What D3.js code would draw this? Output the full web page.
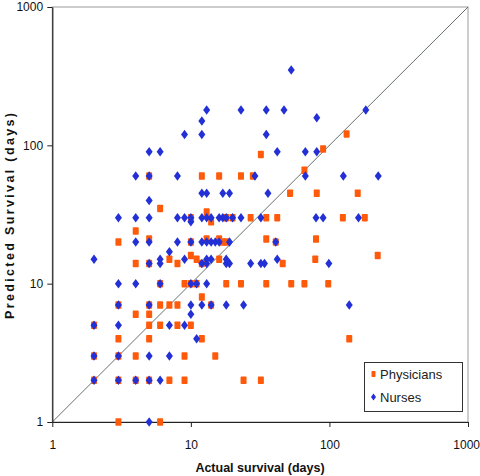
<!DOCTYPE html>
<html><head><meta charset="utf-8">
<script src="https://cdn.jsdelivr.net/npm/d3@7"></script>
<style>body{margin:0;background:#fff}svg{display:block}</style>
</head><body>
<svg id="c" width="480" height="476"></svg>
<script>
const physicianActual = [3,6, 2,3,4,5,7,9,24,32, 2,3,4,9,15, 3,5,12,139, 2,5,6,8,10, 4,5, 3,5,6,7,8,14, 12,
  6,9,10,11,18,23,35,53,66,98, 4,5,8,12,46, 7,11,16,79, 10,223, 3,10,17,18,35,41, 5,13,16,80, 4, 14,
  10,18,20,27,35,42,125,180, 13, 6, 52,81,160, 5,12,16,23,28, 66, 32, 90, 133];
const physicianPredicted = [1,1, 2,2,2,2,2,2,2,2, 3,3,3,3,3, 4,4,4,4, 5,5,5,5,5, 6,6, 7,7,7,7,7,7, 8,
  10,10,10,10,10,10,10,10,10,10, 14,14,14,14,14, 15,15,15,15, 16,16, 20,20,20,20,21,20, 21,21,21,21, 24, 28,
  30,30,30,30,30,30,30,30, 33, 35, 45,45,45, 60,60,60,60,60, 66, 86, 94, 121];
const nurseActual = [5, 2,3,4,5,6, 2,3,5,7, 11, 2,3,7,9, 10, 3,5,10,12,14,18,24,139,
  3,4,6,10,11,13, 5,6,12,13,18,19,27,32,34,99, 2,6,9,13,14,18,42, 7,
  4,5,8,10,12,13,14,15,16,19,41, 10,
  3,4,5,8,9,10,12,13,14,16,17,18,20,23,32,80,90,162, 5, 12,13,17,19,36,
  4,5,8,29,67,126,225, 5,6,42,67,81, 9,12,35, 12, 81, 13,23,35,47,183, 53];
const nursePredicted = [1, 2,2,2,2,2, 3,3,3,3, 4, 5,5,5,5, 6, 7,7,7,7,7,7,7,7,
  10,10,10,10,10,10, 14,14,14,14,14,14,14,14,14,14, 15,15,15,15,15,15,15, 17,
  20,20,20,20,20,20,20,20,20,20,20, 28,
  30,30,30,30,30,30,30,30,30,30,30,30,30,30,30,30,30,30, 40, 45,45,45,45,45,
  60,60,60,60,60,60,60, 90,90,90,90,90, 120,120,120, 150, 158, 180,180,180,180,180, 350];
const axisTicks = [1, 10, 100, 1000];
const tickLabels = ["1", "10", "100", "1000"];
const seriesNames = ["Physicians", "Nurses"];
const seriesColors = ["#ff5a0a", "#2230d6"];

const svg = d3.select("#c");
const L = 52.3, R = 468, T = 7, B = 422;
const x = d3.scaleLog().domain([1, 1000]).range([L, R]);
const y = d3.scaleLog().domain([1, 1000]).range([B, T]);
const font = "'Liberation Sans', Arial, sans-serif";

// frame
svg.append("rect").attr("x", L).attr("y", T).attr("width", R - L).attr("height", B - T)
  .attr("fill", "none").attr("stroke", "#9a9a9a").attr("stroke-width", 1);

// diagonal
svg.append("line").attr("x1", x(1)).attr("y1", y(1)).attr("x2", x(1000)).attr("y2", y(1000))
  .attr("stroke", "#55605c").attr("stroke-width", 0.9);

// axes
const xAxis = d3.axisBottom(x).tickValues(axisTicks).tickFormat((d, i) => tickLabels[i]).tickSize(5).tickSizeOuter(0);
const yAxis = d3.axisLeft(y).tickValues(axisTicks).tickFormat((d, i) => tickLabels[i]).tickSize(5).tickSizeOuter(0);
const gx = svg.append("g").attr("transform", `translate(0,${B})`).call(xAxis);
const gy = svg.append("g").attr("transform", `translate(${L},0)`).call(yAxis);
[gx, gy].forEach(g => {
  g.select(".domain").attr("stroke", "#222").attr("stroke-width", 1.2);
  g.selectAll(".tick line").attr("stroke", "#222");
  g.selectAll("text").attr("font-family", font).attr("font-size", 12).attr("fill", "#111");
});
gx.selectAll("text").attr("dy", "1.55em");
// keep the last label inside the page edge
gx.selectAll(".tick").filter(d => d === 1000).select("text")
  .attr("text-anchor", "end").attr("x", 479.5 - x(1000));
gy.selectAll("text").attr("dx", "-0.1em");

// titles
svg.append("text").attr("x", 260).attr("y", 472).attr("text-anchor", "middle")
  .attr("font-family", font).attr("font-weight", "bold").attr("font-size", 12.5).attr("fill", "#111")
  .text("Actual survival (days)");
svg.append("text").attr("transform", "translate(14,216) rotate(-90)").attr("text-anchor", "middle")
  .attr("font-family", font).attr("font-weight", "bold").attr("font-size", 12.5).attr("fill", "#111")
  .attr("textLength", 206).attr("lengthAdjust", "spacing")
  .text("Predicted Survival (days)");

// markers
const sq = (g, cx, cy, c, w, h) => g.append("rect").attr("x", cx - w / 2).attr("y", cy - h / 2)
  .attr("width", w).attr("height", h).attr("rx", 0.8).attr("fill", c);
const dm = (g, cx, cy, c, w, h) => g.append("path")
  .attr("d", `M${cx},${cy - h / 2}L${cx + w / 2},${cy}L${cx},${cy + h / 2}L${cx - w / 2},${cy}Z`).attr("fill", c);

const gp = svg.append("g");
physicianActual.forEach((a, i) => sq(gp, x(a), y(physicianPredicted[i]), seriesColors[0], 6, 7.5));
const gn = svg.append("g");
nurseActual.forEach((a, i) => dm(gn, x(a), y(nursePredicted[i]), seriesColors[1], 7, 9.5));

// legend
const lg = svg.append("g");
lg.append("rect").attr("x", 364.5).attr("y", 362.5).attr("width", 98).attr("height", 49)
  .attr("fill", "#fff").attr("stroke", "#333").attr("stroke-width", 1);
sq(lg, 373.5, 374, seriesColors[0], 4, 6);
dm(lg, 373.5, 397, seriesColors[1], 5, 7);
seriesNames.forEach((n, i) => lg.append("text").attr("x", 380).attr("y", 379 + i * 23)
  .attr("font-family", font).attr("font-size", 13).attr("fill", "#222").text(n));
</script>
</body></html>
